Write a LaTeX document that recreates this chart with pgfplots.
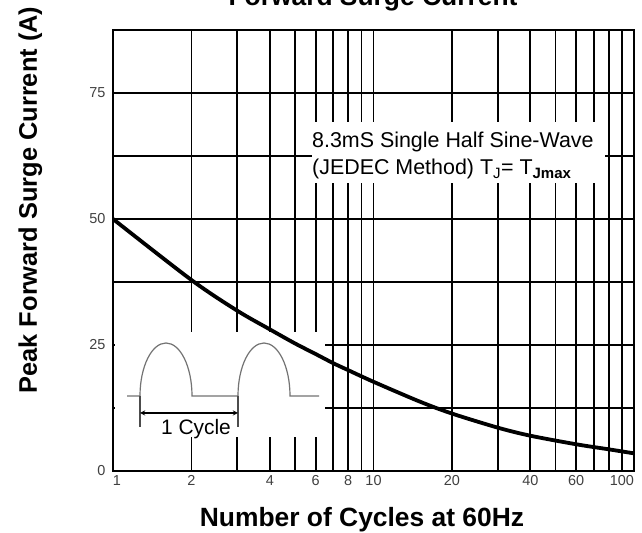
\documentclass[border=0pt]{standalone}
\usepackage{fontspec}
\setmainfont{Liberation Sans}
\usepackage{pgfplots}
\pgfplotsset{compat=1.18}
\begin{document}
\begin{tikzpicture}[x=1bp,y=1bp]
\path[use as bounding box] (-113,-62) rectangle (529,471);
\begin{axis}[
  at={(0,0)}, anchor=south west, scale only axis,
  width=521bp, height=441bp,
  xmode=log, xmin=1, xmax=100, ymin=0, ymax=87.5,
  xtick={1,2,4,6,8,10,20,40,60,100},
  xticklabels={\rlap{1},2,4,6,8,10,20,40,60,\llap{100}},
  minor xtick={3,5,7,9,30,50,70,80,90},
  ytick={0,25,50,75},
  minor ytick={12.5,37.5,62.5},
  grid=both,
  major grid style={black, line width=1.8bp},
  minor grid style={black, line width=1.8bp},
  axis line style={line width=2.2bp},
  major tick length=0pt, minor tick length=0pt,
  tick style={draw=none},
  ticklabel style={font=\fontsize{14.5}{14.5}\selectfont, text=black!75},
  /pgf/number format/assume math mode=true,
  xticklabel style={yshift=-1bp},
  yticklabel style={xshift=-4bp},
]
\draw[line width=2.8bp] (axis cs:1,62.5) -- (axis cs:100,62.5);
\fill[white] (axis cs:1.015,6.75) rectangle (axis cs:6.51,27.6);
\fill[white] (axis cs:5.81,57.1) rectangle (axis cs:77.4,69.2);
\addplot[black, line width=3.8bp, smooth, tension=0.5] coordinates {
(1,50) (2,37.9) (3,31.8) (4,28.1) (5,25.3) (6,23.2)
(7,21.4) (8,20.0) (10,17.7) (15,13.8) (20,11.4) (30,8.6) (40,7.0)
(60,5.3) (80,4.3) (100,3.5)};
\end{axis}
% inset waveform
\draw[black!55, line width=1.2bp] (14,75) -- (27,75)
  arc[start angle=180,end angle=0,x radius=26,y radius=53] -- (125,75)
  arc[start angle=180,end angle=0,x radius=26,y radius=53] -- (206,75);
\draw[black!70, line width=1.1bp] (27,75) -- (27,44) (125,75) -- (125,44);
\draw[black, line width=1.3bp, >=stealth, <->] (27,58) -- (125,58);
\node[anchor=base, font=\fontsize{21}{21}\selectfont, inner sep=1bp] at (83,36) {1 Cycle};
% text box
\node[anchor=base west, inner sep=0pt, font=\fontsize{21.5}{21.5}\selectfont] at (199,323) {8.3mS Single Half Sine-Wave};
\node[anchor=base west, inner sep=0pt, font=\fontsize{21.5}{21.5}\selectfont] at (199,296) {(JEDEC Method) T\textsubscript{J}= T\textsubscript{\bfseries Jmax}};
% labels
\node[anchor=base, font=\bfseries\fontsize{26.5}{26.5}\selectfont] at (260,465) {Forward Surge Current};
\node[anchor=base, font=\bfseries\fontsize{26.5}{26.5}\selectfont] at (249,-56) {Number of Cycles at 60Hz};
\node[anchor=base, rotate=90, font=\bfseries\fontsize{25.5}{25.5}\selectfont] at (-76,271) {Peak Forward Surge Current (A)};
\end{tikzpicture}
\end{document}
